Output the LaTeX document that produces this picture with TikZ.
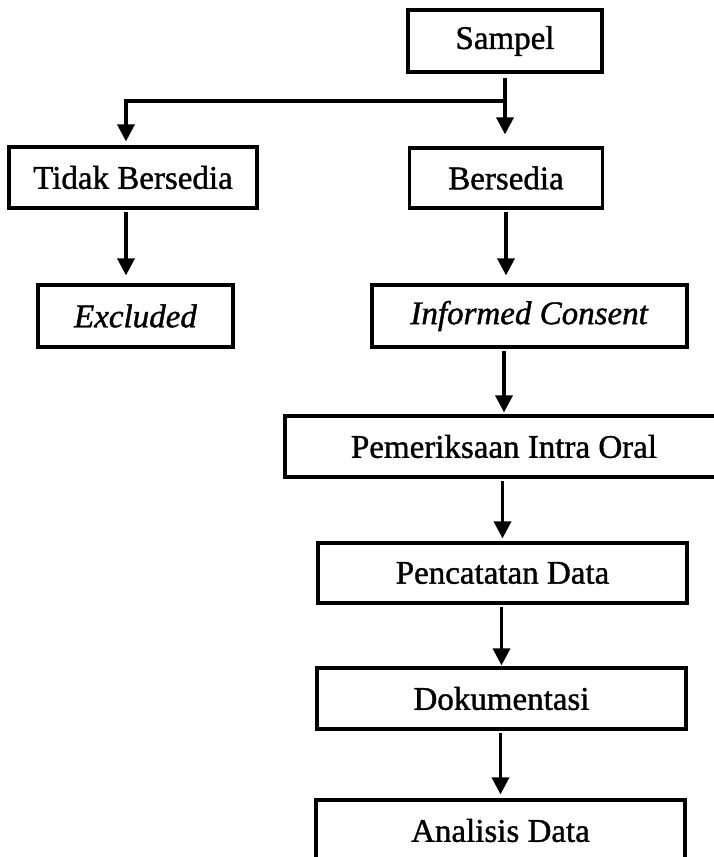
\documentclass[tikz,border=0pt]{standalone}
\usepackage{fontspec}
\setmainfont{Liberation Serif}[FakeBold=1.2]
\usetikzlibrary{arrows.meta,calc}
\begin{document}
\begin{tikzpicture}[x=1pt,y=-1pt,
  box/.style={draw,line width=3.2pt,inner sep=0pt,align=center,
    font=\fontsize{33}{38}\selectfont},
  arr/.style={line width=3.4pt,-{Triangle[width=17pt,length=17pt]}},
  plain/.style={line width=3.4pt}]
\useasboundingbox (0,0) rectangle (714,857);
\clip (0,0) rectangle (714,857);
\node[box,minimum width=194pt,minimum height=62pt] (sampel) at (505,41) {Sampel};
\node[box,minimum width=248pt,minimum height=61pt] (tidak) at (133,177.5) {Tidak Bersedia};
\node[box,minimum width=193pt,minimum height=60pt] (bersedia) at (506,178) {Bersedia};
\node[box,minimum width=195pt,minimum height=62pt] (excluded) at (135.5,316) {\textit{Excluded}};
\node[box,minimum width=315pt,minimum height=62pt] (informed) at (529.5,316) {\textit{Informed Consent}};
\node[box,minimum width=438pt,minimum height=61pt] (pem) at (504,446.5) {Pemeriksaan Intra Oral};
\node[box,minimum width=369pt,minimum height=60pt] (pen) at (502.5,573) {Pencatatan Data};
\node[box,minimum width=369pt,minimum height=61pt] (dok) at (501.5,698.5) {Dokumentasi};
\node[box,minimum width=369pt,minimum height=61pt] (ana) at (500.5,830.5) {Analisis Data};
\coordinate (j) at (505,101);
\coordinate (jl) at (126,101);
% connectors
\draw[arr,shorten <=4pt,shorten >=12pt] (sampel.south) -- (sampel.south |- bersedia.north);
\draw[plain] (j) -- ([xshift=-1.7pt]jl);
\draw[arr,shorten >=4pt] (jl) -- (jl |- tidak.north);
\draw[arr,shorten <=2pt,shorten >=8pt] (tidak.south -| jl) -- (jl |- excluded.north);
\draw[arr,shorten <=2pt,shorten >=8pt] (bersedia.south) -- (bersedia.south |- informed.north);
\draw[arr,shorten <=2pt,shorten >=2pt] (informed.south -| pem) -- (pem.north);
\draw[arr,shorten <=2pt,shorten >=3pt] (pem.south -| pen) -- (pen.north);
\draw[arr,shorten <=2pt,shorten >=1pt] (pen.south -| dok) -- (dok.north);
\draw[arr,shorten <=2pt,shorten >=4pt] (dok.south -| ana) -- (ana.north);
\end{tikzpicture}
\end{document}
